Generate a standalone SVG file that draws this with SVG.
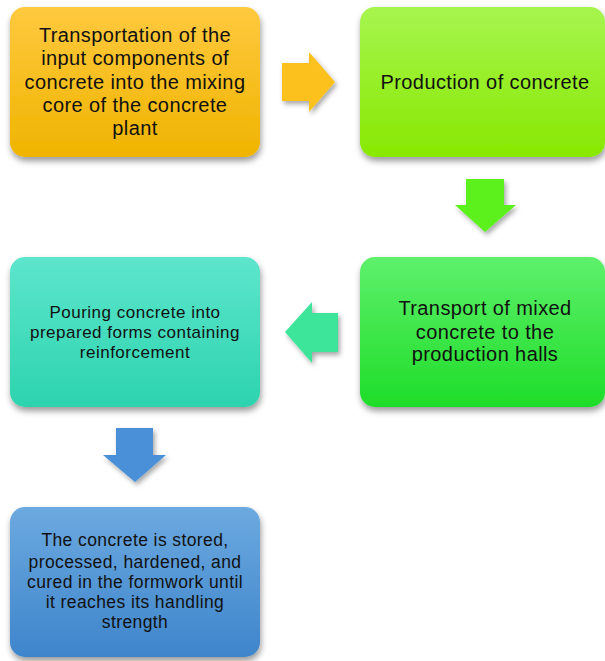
<svg xmlns="http://www.w3.org/2000/svg" width="605" height="661" viewBox="0 0 605 661">
<style>
.t{font-family:"Liberation Sans","Noto Sans",Arial,sans-serif;fill:#111;text-anchor:middle}
.big{font-size:20px;letter-spacing:0.4px}
.mid{font-size:17.5px;letter-spacing:0.4px}
.sm{font-size:17px;letter-spacing:0.5px}
.box{filter:url(#sh)}
.arr{filter:url(#sh2)}
</style>
<defs>
<filter id="sh" x="-10%" y="-10%" width="125%" height="130%">
<feDropShadow dx="1" dy="4" stdDeviation="3" flood-color="#000" flood-opacity="0.4"/>
</filter>
<filter id="sh2" x="-20%" y="-20%" width="150%" height="160%">
<feDropShadow dx="2" dy="3" stdDeviation="2.5" flood-color="#000" flood-opacity="0.35"/>
</filter>
<linearGradient id="g1" x1="0" y1="0" x2="0" y2="1"><stop offset="0" stop-color="#ffc93f"/><stop offset="1" stop-color="#efb400"/></linearGradient>
<linearGradient id="g2" x1="0" y1="0" x2="0" y2="1"><stop offset="0" stop-color="#a6f54f"/><stop offset="1" stop-color="#88e800"/></linearGradient>
<linearGradient id="g3" x1="0" y1="0" x2="0" y2="1"><stop offset="0" stop-color="#5ef06c"/><stop offset="1" stop-color="#1edd28"/></linearGradient>
<linearGradient id="g4" x1="0" y1="0" x2="0" y2="1"><stop offset="0" stop-color="#5de6cd"/><stop offset="1" stop-color="#2dd3ae"/></linearGradient>
<linearGradient id="g5" x1="0" y1="0" x2="0" y2="1"><stop offset="0" stop-color="#6ca9e0"/><stop offset="1" stop-color="#3e85cb"/></linearGradient>
</defs>
<rect width="605" height="661" fill="#fff"/>
<g id="connectors">
<path class="arr" d="M282,63 H309 V52 L335,82 L309,112 V101 H282 Z" fill="#fcc11b"/>
<path class="arr" d="M466,179 H504 V205 H516 L485,232 L455,205 H466 Z" fill="#5cf01e"/>
<path class="arr" d="M338,313 H312 V302 L285,332 L312,363 V352 H338 Z" fill="#3ee59b"/>
<path class="arr" d="M116,428 H153 V455 H166 L135,482 L103,455 H116 Z" fill="#4a90d8"/>
</g>
<g id="n1">
<rect class="box" x="10" y="7" width="250" height="150" rx="15" fill="url(#g1)"/>
<text class="t big"><tspan x="135" y="42">Transportation of the</tspan><tspan x="135" y="65">input components of</tspan><tspan x="135" y="89">concrete into the mixing</tspan><tspan x="135" y="112">core of the concrete</tspan><tspan x="135" y="135">plant</tspan></text>
</g>
<g id="n2">
<rect class="box" x="360" y="7" width="245" height="150" rx="15" fill="url(#g2)"/>
<text class="t big" x="485" y="89">Production of concrete</text>
</g>
<g id="n3">
<rect class="box" x="360" y="257" width="245" height="150" rx="15" fill="url(#g3)"/>
<text class="t big"><tspan x="485" y="315">Transport of mixed</tspan><tspan x="485" y="339">concrete to the</tspan><tspan x="485" y="361">production halls</tspan></text>
</g>
<g id="n4">
<rect class="box" x="10" y="257" width="250" height="150" rx="15" fill="url(#g4)"/>
<text class="t sm"><tspan x="135" y="318">Pouring concrete into</tspan><tspan x="135" y="338">prepared forms containing</tspan><tspan x="135" y="358">reinforcement</tspan></text>
</g>
<g id="n5">
<rect class="box" x="10" y="507" width="250" height="150" rx="15" fill="url(#g5)"/>
<text class="t mid"><tspan x="135" y="546">The concrete is stored,</tspan><tspan x="135" y="568">processed, hardened, and</tspan><tspan x="135" y="588">cured in the formwork until</tspan><tspan x="135" y="608">it reaches its handling</tspan><tspan x="135" y="628">strength</tspan></text>
</g>
</svg>
